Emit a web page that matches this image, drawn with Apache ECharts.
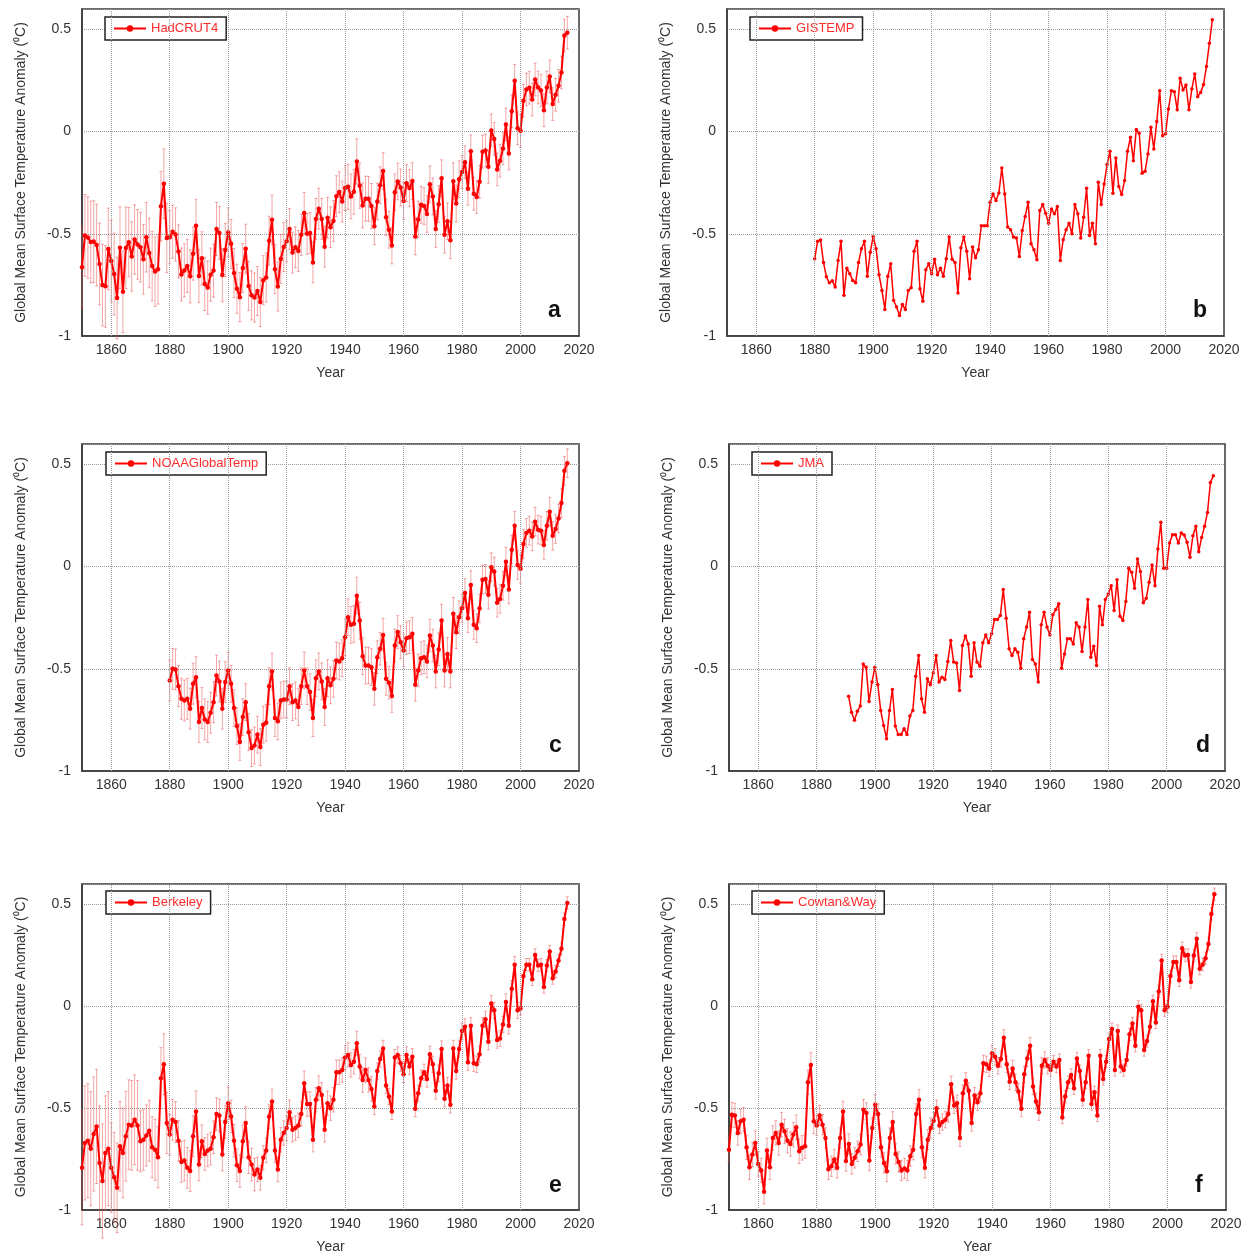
<!DOCTYPE html>
<html><head><meta charset="utf-8">
<script src="https://cdn.jsdelivr.net/npm/echarts@6/dist/echarts.min.js"></script>
<style>html,body{margin:0;padding:0;background:#fff}#c{width:1252px;height:1258px}</style>
</head><body><div id="c"></div>
<script>
// ---------- tick labels / categories ----------
const xTickYears = [1860, 1880, 1900, 1920, 1940, 1960, 1980, 2000, 2020];
const xGridYears = [1860, 1880, 1900, 1920, 1940, 1960, 1980, 2000];
const yTickValues = [-1, -0.5, 0, 0.5];
const seriesNames = ['HadCRUT4', 'GISTEMP', 'NOAAGlobalTemp', 'JMA', 'Berkeley', 'Cowtan&Way'];
const panelLetters = ['a', 'b', 'c', 'd', 'e', 'f'];
const startYears = [1850, 1880, 1880, 1891, 1850, 1850];

// ---------- series values (annual anomaly, deg C) ----------
const hadcrut4 = [
-0.663,-0.508,-0.518,-0.540,-0.538,-0.555,-0.648,-0.751,-0.757,-0.574,
-0.633,-0.697,-0.814,-0.568,-0.784,-0.569,-0.541,-0.611,-0.528,-0.552,
-0.566,-0.625,-0.517,-0.594,-0.658,-0.685,-0.674,-0.365,-0.255,-0.520,
-0.517,-0.490,-0.503,-0.586,-0.699,-0.679,-0.657,-0.708,-0.597,-0.461,
-0.706,-0.620,-0.745,-0.763,-0.700,-0.680,-0.476,-0.496,-0.702,-0.579,
-0.493,-0.549,-0.692,-0.769,-0.810,-0.667,-0.573,-0.755,-0.801,-0.812,
-0.780,-0.834,-0.727,-0.714,-0.534,-0.431,-0.673,-0.758,-0.623,-0.565,
-0.537,-0.477,-0.592,-0.566,-0.584,-0.505,-0.398,-0.500,-0.496,-0.640,
-0.427,-0.377,-0.427,-0.563,-0.421,-0.468,-0.437,-0.316,-0.296,-0.342,
-0.276,-0.270,-0.317,-0.294,-0.146,-0.265,-0.361,-0.328,-0.329,-0.364,
-0.463,-0.342,-0.262,-0.193,-0.419,-0.480,-0.557,-0.297,-0.244,-0.273,
-0.339,-0.252,-0.276,-0.242,-0.513,-0.430,-0.358,-0.364,-0.403,-0.258,
-0.317,-0.476,-0.355,-0.228,-0.504,-0.439,-0.531,-0.243,-0.352,-0.233,
-0.198,-0.150,-0.279,-0.096,-0.304,-0.320,-0.245,-0.098,-0.092,-0.172,
0.006,-0.036,-0.185,-0.142,-0.082,0.035,-0.107,0.100,0.249,0.016,
0.004,0.151,0.206,0.215,0.157,0.255,0.216,0.201,0.105,0.216,
0.270,0.135,0.180,0.224,0.289,0.470,0.484];
const hadcrut4Err = [
0.20,0.20,0.20,0.20,0.20,0.20,0.20,0.20,0.20,0.20,
0.20,0.20,0.20,0.20,0.20,0.20,0.17,0.17,0.17,0.17,
0.17,0.17,0.17,0.17,0.17,0.17,0.17,0.17,0.17,0.17,
0.13,0.13,0.13,0.13,0.13,0.13,0.13,0.13,0.13,0.13,
0.13,0.13,0.13,0.13,0.13,0.13,0.13,0.13,0.13,0.13,
0.12,0.12,0.12,0.12,0.12,0.12,0.12,0.12,0.12,0.12,
0.12,0.12,0.12,0.12,0.12,0.12,0.12,0.12,0.12,0.12,
0.10,0.10,0.10,0.10,0.10,0.10,0.10,0.10,0.10,0.10,
0.10,0.10,0.10,0.10,0.10,0.10,0.10,0.10,0.10,0.10,
0.11,0.11,0.11,0.11,0.11,0.11,0.11,0.11,0.11,0.11,
0.09,0.09,0.09,0.09,0.09,0.09,0.09,0.09,0.09,0.09,
0.09,0.09,0.09,0.09,0.09,0.09,0.09,0.09,0.09,0.09,
0.09,0.09,0.09,0.09,0.09,0.09,0.09,0.09,0.09,0.09,
0.08,0.08,0.08,0.08,0.08,0.08,0.08,0.08,0.08,0.08,
0.08,0.08,0.08,0.08,0.08,0.08,0.08,0.08,0.08,0.08,
0.08,0.08,0.08,0.08,0.08,0.08,0.08,0.08,0.08,0.08,
0.08,0.08,0.08,0.08,0.08,0.08,0.08];

const gistemp = [
-0.622,-0.536,-0.530,-0.640,-0.710,-0.740,-0.730,-0.760,-0.630,-0.536,
-0.800,-0.668,-0.695,-0.728,-0.740,-0.640,-0.573,-0.536,-0.708,-0.590,
-0.513,-0.573,-0.700,-0.777,-0.870,-0.708,-0.647,-0.826,-0.858,-0.900,
-0.846,-0.870,-0.777,-0.764,-0.585,-0.536,-0.769,-0.830,-0.676,-0.647,
-0.695,-0.625,-0.700,-0.668,-0.708,-0.622,-0.516,-0.625,-0.640,-0.790,
-0.568,-0.516,-0.585,-0.720,-0.565,-0.617,-0.578,-0.460,-0.460,-0.460,
-0.345,-0.305,-0.337,-0.300,-0.178,-0.305,-0.467,-0.480,-0.516,-0.520,
-0.611,-0.484,-0.415,-0.345,-0.549,-0.578,-0.627,-0.386,-0.357,-0.399,
-0.448,-0.378,-0.402,-0.366,-0.630,-0.529,-0.480,-0.448,-0.500,-0.357,
-0.402,-0.520,-0.419,-0.277,-0.508,-0.448,-0.549,-0.248,-0.357,-0.256,
-0.161,-0.096,-0.301,-0.129,-0.269,-0.308,-0.239,-0.096,-0.028,-0.142,
0.011,-0.008,-0.204,-0.194,-0.109,0.021,-0.085,0.049,0.200,-0.020,
-0.011,0.111,0.200,0.195,0.107,0.261,0.204,0.228,0.107,0.208,
0.282,0.171,0.192,0.230,0.319,0.432,0.547];

const noaa = [
-0.557,-0.500,-0.503,-0.585,-0.647,-0.655,-0.647,-0.695,-0.573,-0.541,
-0.760,-0.692,-0.748,-0.760,-0.715,-0.663,-0.533,-0.562,-0.695,-0.565,
-0.508,-0.573,-0.692,-0.780,-0.858,-0.736,-0.663,-0.810,-0.888,-0.875,
-0.822,-0.883,-0.774,-0.764,-0.585,-0.513,-0.741,-0.757,-0.655,-0.650,
-0.650,-0.585,-0.663,-0.655,-0.687,-0.585,-0.508,-0.585,-0.614,-0.741,
-0.546,-0.513,-0.562,-0.687,-0.546,-0.581,-0.549,-0.459,-0.464,-0.448,
-0.345,-0.248,-0.285,-0.280,-0.142,-0.264,-0.438,-0.484,-0.484,-0.492,
-0.598,-0.443,-0.402,-0.334,-0.549,-0.568,-0.633,-0.386,-0.320,-0.370,
-0.410,-0.350,-0.345,-0.329,-0.578,-0.508,-0.448,-0.443,-0.464,-0.337,
-0.386,-0.513,-0.405,-0.264,-0.508,-0.427,-0.513,-0.231,-0.321,-0.248,
-0.204,-0.129,-0.252,-0.090,-0.285,-0.301,-0.204,-0.064,-0.060,-0.138,
-0.003,-0.024,-0.177,-0.158,-0.093,0.024,-0.112,0.083,0.200,0.008,
-0.011,0.111,0.165,0.176,0.148,0.220,0.181,0.176,0.106,0.200,
0.269,0.151,0.184,0.236,0.311,0.469,0.506];
const noaaErr = [
0.10,0.10,0.10,0.10,0.10,0.10,0.10,0.10,0.10,0.10,
0.10,0.10,0.10,0.10,0.10,0.10,0.10,0.10,0.10,0.10,
0.09,0.09,0.09,0.09,0.09,0.09,0.09,0.09,0.09,0.09,
0.09,0.09,0.09,0.09,0.09,0.09,0.09,0.09,0.09,0.09,
0.09,0.09,0.09,0.09,0.09,0.09,0.09,0.09,0.09,0.09,
0.09,0.09,0.09,0.09,0.09,0.09,0.09,0.09,0.09,0.09,
0.09,0.09,0.09,0.09,0.09,0.09,0.09,0.09,0.09,0.09,
0.08,0.08,0.08,0.08,0.08,0.08,0.08,0.08,0.08,0.08,
0.08,0.08,0.08,0.08,0.08,0.08,0.08,0.08,0.08,0.08,
0.08,0.08,0.08,0.08,0.08,0.08,0.08,0.08,0.08,0.08,
0.07,0.07,0.07,0.07,0.07,0.07,0.07,0.07,0.07,0.07,
0.07,0.07,0.07,0.07,0.07,0.07,0.07,0.07,0.07,0.07,
0.07,0.07,0.07,0.07,0.07,0.07,0.07,0.07,0.07,0.07,
0.07,0.07,0.07,0.07,0.07,0.07,0.07];

const jma = [
-0.634,-0.712,-0.752,-0.708,-0.682,-0.476,-0.492,-0.660,-0.565,
-0.492,-0.578,-0.704,-0.777,-0.842,-0.704,-0.601,-0.780,-0.822,-0.822,
-0.793,-0.822,-0.731,-0.704,-0.536,-0.435,-0.647,-0.712,-0.549,-0.578,
-0.520,-0.435,-0.565,-0.541,-0.552,-0.464,-0.362,-0.467,-0.472,-0.606,
-0.386,-0.340,-0.378,-0.536,-0.373,-0.467,-0.487,-0.373,-0.334,-0.373,
-0.329,-0.259,-0.259,-0.239,-0.112,-0.252,-0.402,-0.435,-0.402,-0.419,
-0.497,-0.353,-0.296,-0.223,-0.454,-0.476,-0.565,-0.285,-0.223,-0.296,
-0.334,-0.236,-0.210,-0.182,-0.497,-0.427,-0.353,-0.353,-0.378,-0.275,
-0.296,-0.415,-0.296,-0.161,-0.443,-0.389,-0.484,-0.194,-0.285,-0.161,
-0.134,-0.093,-0.215,-0.064,-0.243,-0.264,-0.171,-0.008,-0.028,-0.106,
0.037,-0.024,-0.177,-0.155,-0.077,0.008,-0.093,0.086,0.217,-0.008,
-0.008,0.116,0.156,0.156,0.116,0.164,0.155,0.119,0.046,0.151,
0.197,0.073,0.143,0.197,0.265,0.412,0.445];

const berkeley = [
-0.793,-0.671,-0.660,-0.699,-0.627,-0.590,-0.769,-0.858,-0.720,-0.699,
-0.793,-0.839,-0.891,-0.687,-0.720,-0.638,-0.581,-0.585,-0.557,-0.585,
-0.663,-0.655,-0.634,-0.611,-0.692,-0.704,-0.741,-0.353,-0.285,-0.573,
-0.630,-0.557,-0.568,-0.660,-0.764,-0.757,-0.793,-0.809,-0.638,-0.516,
-0.777,-0.663,-0.725,-0.708,-0.699,-0.643,-0.529,-0.536,-0.728,-0.568,
-0.476,-0.541,-0.660,-0.780,-0.809,-0.663,-0.573,-0.741,-0.777,-0.826,
-0.801,-0.842,-0.744,-0.708,-0.541,-0.467,-0.708,-0.801,-0.655,-0.622,
-0.598,-0.520,-0.606,-0.598,-0.585,-0.529,-0.378,-0.480,-0.480,-0.655,
-0.459,-0.402,-0.435,-0.606,-0.476,-0.500,-0.459,-0.324,-0.324,-0.313,
-0.252,-0.239,-0.288,-0.272,-0.182,-0.296,-0.362,-0.313,-0.362,-0.406,
-0.492,-0.318,-0.259,-0.207,-0.389,-0.443,-0.516,-0.252,-0.239,-0.280,
-0.334,-0.239,-0.296,-0.248,-0.503,-0.427,-0.353,-0.324,-0.357,-0.236,
-0.285,-0.415,-0.329,-0.210,-0.454,-0.389,-0.484,-0.207,-0.318,-0.210,
-0.122,-0.101,-0.275,-0.096,-0.280,-0.285,-0.236,-0.096,-0.064,-0.174,
0.013,-0.020,-0.166,-0.158,-0.090,0.021,-0.096,0.086,0.204,-0.020,
-0.011,0.148,0.204,0.204,0.132,0.252,0.200,0.204,0.094,0.200,
0.269,0.138,0.171,0.225,0.282,0.428,0.507];
const berkeleyErr = [
0.28,0.28,0.28,0.28,0.28,0.28,0.28,0.28,0.28,0.28,
0.22,0.22,0.22,0.22,0.22,0.22,0.22,0.22,0.22,0.22,
0.15,0.15,0.15,0.15,0.15,0.15,0.15,0.15,0.15,0.15,
0.10,0.10,0.10,0.10,0.10,0.10,0.10,0.10,0.10,0.10,
0.08,0.08,0.08,0.08,0.08,0.08,0.08,0.08,0.08,0.08,
0.08,0.08,0.08,0.08,0.08,0.08,0.08,0.08,0.08,0.08,
0.06,0.06,0.06,0.06,0.06,0.06,0.06,0.06,0.06,0.06,
0.06,0.06,0.06,0.06,0.06,0.06,0.06,0.06,0.06,0.06,
0.06,0.06,0.06,0.06,0.06,0.06,0.06,0.06,0.06,0.06,
0.06,0.06,0.06,0.06,0.06,0.06,0.06,0.06,0.06,0.06,
0.04,0.04,0.04,0.04,0.04,0.04,0.04,0.04,0.04,0.04,
0.04,0.04,0.04,0.04,0.04,0.04,0.04,0.04,0.04,0.04,
0.04,0.04,0.04,0.04,0.04,0.04,0.04,0.04,0.04,0.04,
0.04,0.04,0.04,0.04,0.04,0.04,0.04,0.04,0.04,0.04,
0.04,0.04,0.04,0.04,0.04,0.04,0.04,0.04,0.04,0.04,
0.03,0.03,0.03,0.03,0.03,0.03,0.03,0.03,0.03,0.03,
0.03,0.03,0.03,0.03,0.03,0.03,0.03];

const cowtanWay = [
-0.704,-0.533,-0.536,-0.622,-0.565,-0.557,-0.692,-0.790,-0.728,-0.671,
-0.774,-0.806,-0.910,-0.708,-0.790,-0.647,-0.622,-0.671,-0.581,-0.614,
-0.660,-0.676,-0.630,-0.594,-0.712,-0.695,-0.687,-0.373,-0.288,-0.565,
-0.585,-0.536,-0.581,-0.647,-0.800,-0.785,-0.752,-0.793,-0.647,-0.516,
-0.760,-0.676,-0.774,-0.744,-0.712,-0.679,-0.508,-0.524,-0.757,-0.598,
-0.484,-0.529,-0.692,-0.769,-0.810,-0.647,-0.568,-0.725,-0.764,-0.806,
-0.796,-0.806,-0.736,-0.704,-0.529,-0.459,-0.692,-0.793,-0.655,-0.598,
-0.562,-0.500,-0.585,-0.568,-0.557,-0.529,-0.383,-0.487,-0.476,-0.647,
-0.427,-0.366,-0.415,-0.573,-0.438,-0.471,-0.427,-0.280,-0.285,-0.305,
-0.231,-0.248,-0.292,-0.259,-0.155,-0.285,-0.370,-0.305,-0.373,-0.419,
-0.503,-0.334,-0.256,-0.194,-0.394,-0.467,-0.520,-0.292,-0.264,-0.292,
-0.313,-0.272,-0.296,-0.264,-0.546,-0.443,-0.373,-0.337,-0.402,-0.256,
-0.318,-0.459,-0.373,-0.243,-0.480,-0.422,-0.536,-0.243,-0.357,-0.272,
-0.161,-0.112,-0.313,-0.122,-0.296,-0.313,-0.264,-0.138,-0.085,-0.194,
-0.003,-0.020,-0.215,-0.171,-0.101,0.024,-0.080,0.073,0.225,-0.020,
-0.003,0.148,0.217,0.217,0.127,0.285,0.249,0.252,0.119,0.249,
0.331,0.184,0.204,0.236,0.306,0.453,0.550];
const cowtanWayErr = [
0.06,0.06,0.06,0.06,0.06,0.06,0.06,0.06,0.06,0.06,
0.06,0.06,0.06,0.06,0.06,0.06,0.06,0.06,0.06,0.06,
0.06,0.06,0.06,0.06,0.06,0.06,0.06,0.06,0.06,0.06,
0.05,0.05,0.05,0.05,0.05,0.05,0.05,0.05,0.05,0.05,
0.05,0.05,0.05,0.05,0.05,0.05,0.05,0.05,0.05,0.05,
0.05,0.05,0.05,0.05,0.05,0.05,0.05,0.05,0.05,0.05,
0.05,0.05,0.05,0.05,0.05,0.05,0.05,0.05,0.05,0.05,
0.04,0.04,0.04,0.04,0.04,0.04,0.04,0.04,0.04,0.04,
0.04,0.04,0.04,0.04,0.04,0.04,0.04,0.04,0.04,0.04,
0.04,0.04,0.04,0.04,0.04,0.04,0.04,0.04,0.04,0.04,
0.04,0.04,0.04,0.04,0.04,0.04,0.04,0.04,0.04,0.04,
0.03,0.03,0.03,0.03,0.03,0.03,0.03,0.03,0.03,0.03,
0.03,0.03,0.03,0.03,0.03,0.03,0.03,0.03,0.03,0.03,
0.03,0.03,0.03,0.03,0.03,0.03,0.03,0.03,0.03,0.03,
0.03,0.03,0.03,0.03,0.03,0.03,0.03,0.03,0.03,0.03,
0.03,0.03,0.03,0.03,0.03,0.03,0.03,0.03,0.03,0.03,
0.03,0.03,0.03,0.03,0.03,0.03,0.03];

const panelValues = [hadcrut4, gistemp, noaa, jma, berkeley, cowtanWay];
const panelErrors = [hadcrut4Err, null, noaaErr, null, berkeleyErr, cowtanWayErr];

// ---------- layout / style ----------
const grids = [
  {left: 82, top: 9, width: 497, height: 327},
  {left: 727, top: 9, width: 497, height: 327},
  {left: 82, top: 444, width: 497, height: 327},
  {left: 729, top: 444, width: 496, height: 327},
  {left: 82, top: 884, width: 497, height: 326},
  {left: 729, top: 884, width: 497, height: 326}
];
const legendPos = [[105, 17], [750, 17], [106, 452], [752, 452], [106, 891], [752, 891]];
const letterPos = [[548, 299], [1193, 299], [549, 734], [1196, 734], [549, 1174], [1195, 1174]];
const FONT = '"Liberation Sans", Arial, Helvetica, sans-serif';
const RED = '#ff0000';
const ERR_COLOR = 'rgba(235,80,80,0.5)';

const option = {
  animation: false,
  backgroundColor: '#fff',
  textStyle: {fontFamily: FONT},
  grid: grids.map(g => Object.assign({show: true, borderColor: '#3a3a3a', borderWidth: 1.5, backgroundColor: '#fff', containLabel: false}, g)),
  xAxis: grids.map((g, i) => ({
    type: 'value', gridIndex: i, min: 1850, max: 2020, interval: 10,
    name: 'Year', nameLocation: 'middle', nameGap: 30,
    nameTextStyle: {fontSize: 14, color: '#333', fontFamily: FONT},
    axisLine: {show: true, onZero: false, lineStyle: {color: '#3a3a3a', width: 1.5}},
    axisTick: {show: false},
    splitLine: {show: false},
    axisLabel: {fontSize: 14, color: '#333', margin: 7, fontFamily: FONT,
      formatter: v => xTickYears.includes(Math.round(v)) ? String(Math.round(v)) : ''}
  })),
  yAxis: grids.map((g, i) => ({
    type: 'value', gridIndex: i, min: -1, max: 0.6, interval: 0.5,
    name: 'Global Mean Surface Temperature Anomaly (⁰C)', nameLocation: 'middle', nameGap: 54,
    nameTextStyle: {fontSize: 14, color: '#333', fontFamily: FONT},
    axisLine: {show: true, onZero: false, lineStyle: {color: '#3a3a3a', width: 1.5}},
    axisTick: {show: false},
    splitLine: {show: true, lineStyle: {type: 'dotted', color: '#9a9a9a', width: 1}},
    axisLabel: {fontSize: 14, color: '#333', margin: 11, fontFamily: FONT,
      formatter: v => {
        const r = Math.round(v * 10) / 10;
        return yTickValues.includes(r) ? String(r) : '';
      }}
  })),
  legend: seriesNames.map((n, i) => ({
    data: [n], left: legendPos[i][0], top: legendPos[i][1], orient: 'horizontal',
    selectedMode: false, backgroundColor: '#fff',
    borderColor: '#222', borderWidth: 1.5, borderRadius: 0,
    padding: [5, 8, 5, 8], itemWidth: 32, itemHeight: 8, itemGap: 4,
    textStyle: {color: '#ff2a2a', fontSize: 13, fontFamily: FONT}
  })),
  title: panelLetters.map((t, i) => ({
    text: t, left: letterPos[i][0], top: letterPos[i][1], padding: 0,
    textStyle: {fontSize: 23, fontWeight: 'bold', color: '#111', fontFamily: FONT}
  })),
  series: []
};

panelValues.forEach((vals, i) => {
  const start = startYears[i];
  const hasErr = !!panelErrors[i];
  const pts = vals.map((v, k) => [start + k, v]);
  if (hasErr) {
    const errs = panelErrors[i];
    option.series.push({
      type: 'custom', name: seriesNames[i] + ' error', xAxisIndex: i, yAxisIndex: i,
      z: 2, silent: true, encode: {x: 0, y: 1},
      data: vals.map((v, k) => [start + k, v, errs[k]]),
      renderItem: function (params, api) {
        const x = api.value(0), y = api.value(1), e = api.value(2);
        const p1 = api.coord([x, y + e]);
        const p2 = api.coord([x, y - e]);
        const w = 1.5;
        const st = {stroke: ERR_COLOR, lineWidth: 1};
        return {type: 'group', children: [
          {type: 'line', shape: {x1: p1[0], y1: p1[1], x2: p2[0], y2: p2[1]}, style: st},
          {type: 'line', shape: {x1: p1[0] - w, y1: p1[1], x2: p1[0] + w, y2: p1[1]}, style: st},
          {type: 'line', shape: {x1: p2[0] - w, y1: p2[1], x2: p2[0] + w, y2: p2[1]}, style: st}
        ]};
      }
    });
  }
  option.series.push({
    type: 'line', name: seriesNames[i], xAxisIndex: i, yAxisIndex: i, z: 3,
    data: pts, symbol: 'circle', symbolSize: hasErr ? 4.5 : 3.5, showSymbol: true,
    lineStyle: {color: RED, width: hasErr ? 2 : 1.5},
    itemStyle: {color: RED},
    markLine: {
      silent: true, symbol: ['none', 'none'], label: {show: false},
      lineStyle: {type: 'dotted', color: '#9a9a9a', width: 1},
      data: xGridYears.map(y => ({xAxis: y}))
    }
  });
});

const chart = echarts.init(document.getElementById('c'), null, {renderer: 'canvas'});
chart.setOption(option);
</script>
</body></html>
